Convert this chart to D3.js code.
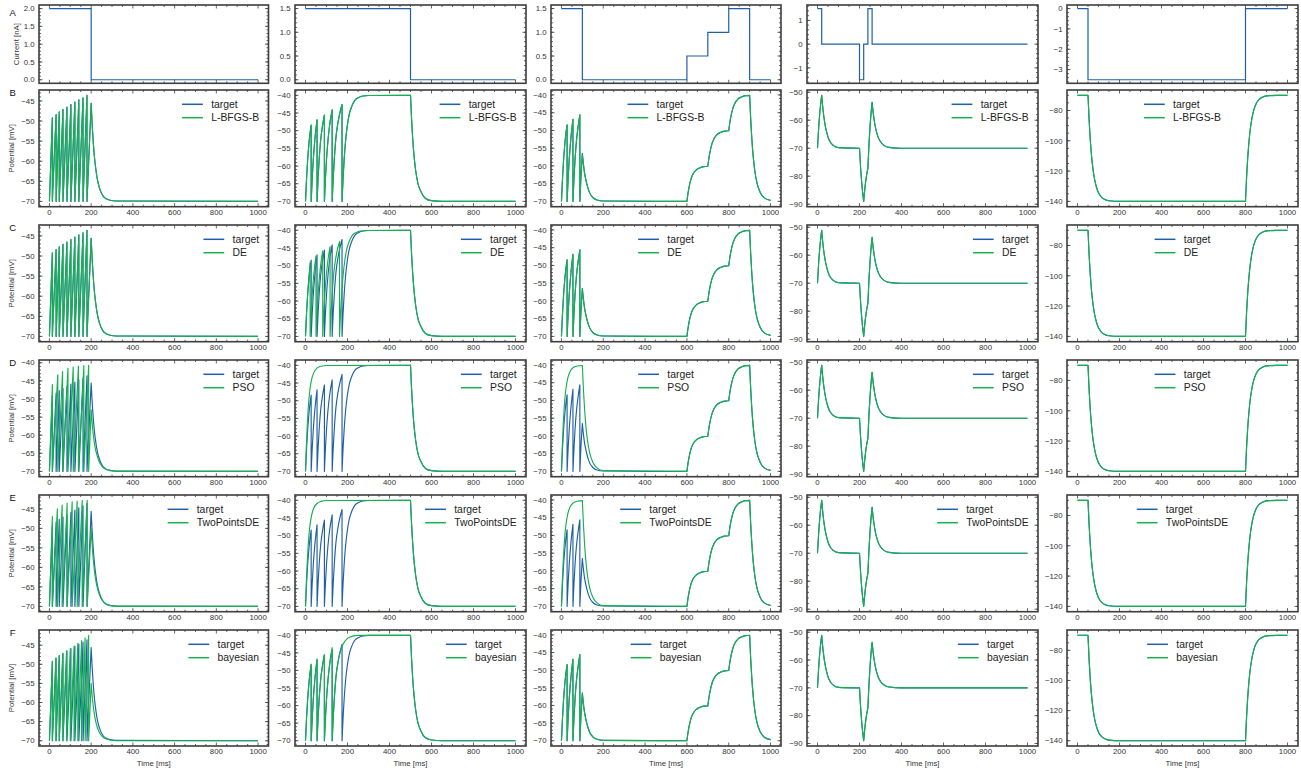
<!DOCTYPE html>
<html><head><meta charset="utf-8">
<script src="https://cdn.jsdelivr.net/npm/d3@7"></script>
<style>
body{margin:0;background:#fff}
svg{display:block;font-family:"Liberation Sans",Arial,Helvetica,sans-serif}
</style></head><body><svg id="c" width="1301" height="772"></svg>
<script>
// ---------------- DATA ----------------
const rowLetters = ["A","B","C","D","E","F"];
const methods = ["L-BFGS-B","DE","PSO","TwoPointsDE","bayesian"];
const timeTicks = [0,200,400,600,800,1000];
const currentTicks = [[0,0.5,1,1.5,2],[0,0.5,1,1.5],[0,0.5,1,1.5],[-1,0,1],[-3,-2,-1,0]];
const potentialTickCandidates = [
  [-70,-65,-60,-55,-50,-45,-40],
  [-70,-65,-60,-55,-50,-45,-40],
  [-70,-65,-60,-55,-50,-45,-40],
  [-90,-80,-70,-60,-50],
  [-140,-120,-100,-80]
];

// injected current [t (ms), I (nA)]
const current1 = [[0,2],[200,2],[200,0],[1000,0]];
const current2 = [[0,1.5],[500,1.5],[500,0],[1000,0]];
const current3 = [[0,1.5],[100,1.5],[100,0],[600,0],[600,0.5],[700,0.5],[700,1],[800,1],[800,1.5],[900,1.5],[900,0],[1000,0]];
const current4 = [[0,1.5],[20,1.5],[20,0],[200,0],[200,-1.5],[220,-1.5],[220,0],[240,0],[240,1.5],[260,1.5],[260,0],[1000,0]];
const current5 = [[0,0],[50,0],[50,-3.5],[800,-3.5],[800,0],[1000,0]];

// column 1 : spike times / peak potentials
const c1TargetSpikeT = [14, 32, 47, 65, 84, 103, 122, 141, 161, 180];
const c1TargetSpikeV = [-49.2, -48.4, -47.7, -47.1, -46.5, -45.9, -45.3, -44.7, -44.2, -43.6];
const c1TargetTail = [[[180,-70],[200,-45.6]],
  [[200,-45.6],[205,-51.0],[210,-55.2],[215,-58.5],[220,-61.0],[230,-64.6],[240,-66.7],[255,-68.5],[270,-69.3],[290,-69.7],[320,-69.9],[1000,-70]]];
const c1PsoSpikeT = [14, 40, 63, 89, 114, 139, 165, 188];
const c1PsoSpikeV = [-46.0, -43.3, -42.4, -41.5, -41.2, -40.9, -40.8, -40.7];
const c1PsoTail = [[[188,-70],[200,-53.0]],
  [[200,-53.0],[205,-56.8],[210,-59.7],[215,-62.0],[220,-63.7],[230,-65.9],[240,-67.5],[255,-68.8],[270,-69.4],[290,-69.8],[320,-70],[1000,-70]]];
const c1TpdeSpikeT = [14, 38, 61, 85, 109, 133, 157, 181];
const c1TpdeSpikeV = [-47.0, -45.0, -44.0, -43.5, -43.2, -43.0, -42.9, -42.8];
const c1TpdeTail = [[[181,-70],[200,-50.0]],
  [[200,-50.0],[205,-54.4],[210,-57.9],[215,-60.5],[220,-62.6],[230,-65.4],[240,-67.1],[255,-68.6],[270,-69.4],[290,-69.8],[320,-70],[1000,-70]]];
const c1BayesSpikeT = [14, 31, 47, 64, 82, 100, 118, 136, 154, 171, 188];
const c1BayesSpikeV = [-49.2, -48.3, -47.7, -47.1, -46.5, -45.9, -45.2, -44.5, -43.8, -43.1, -42.4];
const c1BayesTail = [[[188,-70],[200,-55.0]],
  [[200,-55.0],[205,-58.3],[210,-60.9],[215,-62.9],[220,-64.5],[230,-66.6],[240,-67.9],[255,-69.0],[270,-69.5],[290,-69.8],[320,-70],[1000,-70]]];

// column 2 : segments of [t, V]
const c2Decay = [[500,-40],[505,-46.6],[510,-51.8],[517,-57.2],[525,-61.4],[535,-64.8],[550,-67.3],[570,-69.1],[600,-69.8],[650,-70],[1000,-70]];
const c2Target = [
  [[0,-70],[5,-63.6],[10,-58.5],[15,-54.6],[20,-51.5],[27,-48.4]],
  [[27,-70],[32,-63.5],[37,-58.3],[42,-54.3],[47,-51.0],[55,-46.9]],
  [[55,-70],[60,-63.4],[65,-58.2],[72,-52.8],[80,-49.0],[90,-45.6]],
  [[90,-70],[95,-63.4],[100,-58.2],[107,-52.8],[115,-48.4],[127,-44.1]],
  [[127,-70],[132,-63.4],[137,-58.2],[145,-51.9],[155,-47.6],[164,-44.9],[174,-42.6]],
  [[174,-70],[179,-63.4],[184,-58.2],[191,-52.8],[199,-48.6],[209,-45.2],[219,-43.3],[234,-41.5],[254,-40.6],[274,-40.2],[300,-40.05],[500,-40]],
  c2Decay];
const c2De = [
  [[0,-70],[5,-63.4],[10,-58.2],[15,-54.2],[22,-49.0]],
  [[22,-70],[27,-63.4],[32,-58.2],[38,-53.4],[44,-50.0],[50,-47.2]],
  [[50,-70],[55,-63.4],[60,-58.2],[67,-52.8],[74,-49.0],[82,-45.8]],
  [[82,-70],[87,-63.4],[92,-58.2],[99,-52.8],[107,-48.4],[117,-44.6]],
  [[117,-70],[122,-63.4],[127,-58.2],[135,-51.9],[145,-47.6],[154,-44.9],[162,-43.2]],
  [[162,-70],[167,-63.4],[172,-58.2],[179,-52.8],[187,-48.6],[197,-45.2],[207,-43.3],[222,-41.5],[242,-40.6],[262,-40.2],[290,-40.05],[500,-40]],
  c2Decay];
const c2Pso = [
  [[0,-70],[4,-63.0],[8,-57.5],[12,-53.2],[16,-49.8],[22,-46.5],[30,-43.8],[40,-42.0],[55,-40.8],[75,-40.25],[100,-40.05],[500,-40]],
  c2Decay];
const c2Tpde = [
  [[0,-70],[4,-63.3],[8,-57.9],[12,-53.6],[16,-50.2],[22,-46.8],[30,-44.0],[40,-42.1],[55,-40.9],[75,-40.3],[100,-40.05],[500,-40]],
  c2Decay];
const c2Bayes = [
  [[0,-70],[5,-63.6],[10,-58.5],[15,-54.6],[20,-51.5],[27,-48.2]],
  [[27,-70],[32,-63.5],[37,-58.3],[42,-54.3],[47,-51.0],[55,-46.8]],
  [[55,-70],[60,-63.4],[65,-58.2],[72,-52.8],[80,-49.0],[90,-45.5]],
  [[90,-70],[95,-63.4],[100,-58.2],[107,-52.8],[115,-48.2],[127,-43.5]],
  [[127,-70],[132,-63.4],[137,-58.2],[145,-51.9],[155,-47.6],[165,-44.8],[180,-42.4],[200,-40.9],[225,-40.25],[250,-40.05],[500,-40]],
  c2Decay];

// column 3
const c3Steps = [
  [[600,-70],[605,-67.8],[610,-66.1],[620,-63.6],[630,-62.2],[645,-61.1],[660,-60.6],[680,-60.2],[700,-60.1]],
  [[700,-60.1],[705,-57.9],[710,-56.2],[720,-53.7],[730,-52.3],[745,-51.1],[760,-50.6],[780,-50.2],[800,-50.1]],
  [[800,-50.1],[805,-47.9],[810,-46.2],[820,-43.7],[830,-42.3],[845,-41.1],[860,-40.6],[880,-40.2],[900,-40.1]],
  [[900,-40.1],[905,-46.7],[910,-51.9],[917,-57.3],[925,-61.5],[935,-64.8],[950,-67.4],[970,-69.0],[1000,-69.7]]];
const c3Target = [
  [[0,-70],[5,-63.6],[10,-58.5],[15,-54.6],[20,-51.5],[27,-48.4]],
  [[27,-70],[32,-63.5],[37,-58.3],[42,-54.3],[47,-51.0],[55,-46.9]],
  [[55,-70],[60,-63.4],[65,-58.2],[72,-52.8],[80,-48.8],[88,-45.6]],
  [[88,-70],[93,-63.4],[100,-56.5]],
  [[100,-56.5],[105,-59.5],[110,-61.8],[117,-64.0],[125,-65.9],[135,-67.6],[150,-68.9],[170,-69.6],[200,-69.9],[600,-70]],
  ...c3Steps];
const c3Pso = [
  [[0,-70],[4,-63.0],[8,-57.5],[12,-53.2],[16,-49.8],[22,-46.5],[30,-43.8],[40,-42.0],[55,-40.8],[75,-40.3],[100,-40.15]],
  [[100,-40.15],[105,-46.7],[110,-51.9],[117,-57.3],[125,-61.5],[135,-64.8],[150,-67.4],[170,-69.0],[200,-69.8],[600,-70]],
  ...c3Steps];
const c3Tpde = [
  [[0,-70],[4,-63.3],[8,-57.9],[12,-53.6],[16,-50.2],[22,-46.8],[30,-44.0],[40,-42.1],[55,-40.9],[75,-40.35],[100,-40.2]],
  [[100,-40.2],[105,-46.7],[110,-51.9],[117,-57.3],[125,-61.5],[135,-64.8],[150,-67.4],[170,-69.0],[200,-69.8],[600,-70]],
  ...c3Steps];

// column 4
const c4Target = [
  [[0,-70],[5,-63.4],[10,-58.2],[15,-54.2],[20,-51.1]],
  [[20,-51.1],[25,-55.3],[30,-58.6],[35,-61.1],[40,-63.1],[50,-66.0],[60,-67.7],[75,-69.0],[100,-69.8],[200,-70]],
  [[200,-70],[205,-76.6],[210,-81.8],[215,-85.8],[220,-89.0]],
  [[220,-89.0],[225,-84.8],[230,-81.6],[235,-79.1],[240,-77.2]],
  [[240,-77.2],[245,-68.9],[250,-62.5],[255,-57.5],[260,-53.6]],
  [[260,-53.6],[265,-57.2],[270,-60.0],[275,-62.2],[280,-63.9],[290,-66.3],[300,-67.7],[315,-68.9],[340,-69.7],[400,-70],[1000,-70]]];

// column 5
const c5Target = [
  [[0,-70],[50,-70]],
  [[50,-70],[55,-85.5],[60,-97.5],[65,-106.9],[70,-114.3],[80,-124.4],[90,-130.5],[100,-134.3],[115,-137.3],[130,-138.7],[150,-139.6],[200,-140],[800,-140]],
  [[800,-140],[805,-124.5],[810,-112.5],[815,-103.1],[820,-95.7],[830,-85.6],[840,-79.5],[850,-75.7],[865,-72.7],[880,-71.3],[900,-70.4],[950,-70.05],[1000,-70]]];

// --------------- build trace tables ---------------
function spikeSegments(times, peaks, tail) {
  const segs = times.map((t, i) => [[i ? times[i-1] : 0, -70], [t, peaks[i]]]);
  return segs.concat(tail);
}
const c1Target = spikeSegments(c1TargetSpikeT, c1TargetSpikeV, c1TargetTail);
const c1Pso = spikeSegments(c1PsoSpikeT, c1PsoSpikeV, c1PsoTail);
const c1Tpde = spikeSegments(c1TpdeSpikeT, c1TpdeSpikeV, c1TpdeTail);
const c1Bayes = spikeSegments(c1BayesSpikeT, c1BayesSpikeV, c1BayesTail);

const currents = [current1, current2, current3, current4, current5];
const targets = [c1Target, c2Target, c3Target, c4Target, c5Target];
// fits[column][method]
const fits = [
  [c1Target, c1Target, c1Pso, c1Tpde, c1Bayes],
  [c2Target, c2De, c2Pso, c2Tpde, c2Bayes],
  [c3Target, c3Target, c3Pso, c3Tpde, c3Target],
  [c4Target, c4Target, c4Target, c4Target, c4Target],
  [c5Target, c5Target, c5Target, c5Target, c5Target]
];
const legendCentered = [false, false, true, false, true];

// --------------- LAYOUT ---------------
const colLeft = [39, 295, 551, 807, 1067];
const colWidth = [229.5, 231, 230, 231, 231];
const rowTop = [5, 90, 225, 360, 495, 630];
const rowHeight = [78.3, 116.7, 116.7, 116.7, 116.7, 116];
const targetColor = "#1f5fa8";
const fitColor = "#13b24e";
const frameColor = "#3d3d3d";
const textColor = "#333";
const tickFont = 7.8;

const svg = d3.select("#c");
const minus = s => String(s).replace("-", "\u2212");

function drawPanel(r, c) {
  const x0 = colLeft[c], y0 = rowTop[r], w = colWidth[c], h = rowHeight[r];
  const g = svg.append("g");
  const x = d3.scaleLinear().domain([-50, 1050]).range([x0, x0 + w]);
  let yDomain, yTicks, fmt;
  if (r === 0) {
    const ext = d3.extent(currents[c], d => d[1]);
    const pad = (ext[1] - ext[0]) * 0.05;
    yDomain = [ext[0] - pad, ext[1] + pad];
    yTicks = currentTicks[c];
    fmt = c < 3 ? (v => minus(v.toFixed(1))) : (v => minus(v.toFixed(0)));
  } else {
    const all = targets[c].concat(fits[c][r-1]).flat();
    const ext = d3.extent(all, d => d[1]);
    const pad = (ext[1] - ext[0]) * 0.05;
    yDomain = [ext[0] - pad, ext[1] + pad];
    yTicks = potentialTickCandidates[c].filter(v => v >= yDomain[0] && v <= yDomain[1]);
    fmt = v => minus(v.toFixed(0));
  }
  const y = d3.scaleLinear().domain(yDomain).range([y0 + h, y0]);

  const clipId = `clip${r}_${c}`;
  svg.append("clipPath").attr("id", clipId).append("rect")
    .attr("x", x0).attr("y", y0).attr("width", w).attr("height", h);
  const plot = g.append("g").attr("clip-path", `url(#${clipId})`);

  if (r === 0) {
    const line = d3.line().x(d => x(d[0])).y(d => y(d[1]));
    plot.append("path").attr("d", line(currents[c])).attr("fill", "none")
      .attr("stroke", targetColor).attr("stroke-width", 1.2);
  } else {
    const line = d3.line().x(d => x(d[0])).y(d => y(d[1])).curve(d3.curveMonotoneX);
    const path = segs => segs.map((s, i) => { const d = line(s); return i ? "L" + d.slice(1) : d; }).join("");
    plot.append("path").attr("d", path(targets[c])).attr("fill", "none")
      .attr("stroke", targetColor).attr("stroke-width", 1.15).attr("stroke-linejoin", "round");
    plot.append("path").attr("d", path(fits[c][r-1])).attr("fill", "none")
      .attr("stroke", fitColor).attr("stroke-width", 1.15).attr("stroke-linejoin", "round");
  }

  // ticks (inward, all sides)
  const tk = g.append("g").attr("stroke", frameColor).attr("stroke-width", 0.8);
  const xMinor = d3.range(-50, 1051, 50).filter(v => v > -50 && v < 1050 && v % 200 !== 0);
  timeTicks.forEach(v => {
    tk.append("line").attr("x1", x(v)).attr("x2", x(v)).attr("y1", y0 + h).attr("y2", y0 + h - 3.5);
    tk.append("line").attr("x1", x(v)).attr("x2", x(v)).attr("y1", y0).attr("y2", y0 + 3.5);
  });
  xMinor.forEach(v => {
    tk.append("line").attr("x1", x(v)).attr("x2", x(v)).attr("y1", y0 + h).attr("y2", y0 + h - 2);
    tk.append("line").attr("x1", x(v)).attr("x2", x(v)).attr("y1", y0).attr("y2", y0 + 2);
  });
  const step = yTicks[1] - yTicks[0];
  const mant = step / Math.pow(10, Math.floor(Math.log10(step)));
  const ndiv = [1, 2.5, 5, 10].some(m => Math.abs(m - mant) < 1e-6) ? 5 : 4;
  const yMinor = [];
  for (let v = yTicks[0] - step; v <= yTicks[yTicks.length-1] + step + 1e-9; v += step / ndiv) {
    if (v > yDomain[0] && v < yDomain[1]) yMinor.push(v);
  }
  yMinor.forEach(v => {
    tk.append("line").attr("x1", x0).attr("x2", x0 + 2).attr("y1", y(v)).attr("y2", y(v));
    tk.append("line").attr("x1", x0 + w).attr("x2", x0 + w - 2).attr("y1", y(v)).attr("y2", y(v));
  });
  yTicks.forEach(v => {
    tk.append("line").attr("x1", x0).attr("x2", x0 + 3.5).attr("y1", y(v)).attr("y2", y(v));
    tk.append("line").attr("x1", x0 + w).attr("x2", x0 + w - 3.5).attr("y1", y(v)).attr("y2", y(v));
  });

  g.append("rect").attr("x", x0).attr("y", y0).attr("width", w).attr("height", h)
    .attr("fill", "none").attr("stroke", frameColor).attr("stroke-width", 1.6);

  yTicks.forEach(v => {
    g.append("text").attr("x", x0 - 4.5).attr("y", y(v)).attr("dy", "0.35em")
      .attr("text-anchor", "end").attr("font-size", tickFont).attr("fill", textColor).text(fmt(v));
  });
  if (r > 0) {
    timeTicks.forEach(v => {
      g.append("text").attr("x", x(v)).attr("y", y0 + h + 8.3)
        .attr("text-anchor", "middle").attr("font-size", tickFont).attr("fill", textColor).text(fmt(v));
    });
  }
  if (r === 5) {
    g.append("text").attr("x", x0 + w / 2).attr("y", y0 + h + 19.5).attr("text-anchor", "middle")
      .attr("font-size", tickFont).attr("fill", textColor).text("Time [ms]");
  }
  if (c === 0) {
    const lx = r === 0 ? 19.4 : 14.4;
    g.append("text").attr("transform", `translate(${lx},${y0 + h / 2}) rotate(-90)`)
      .attr("text-anchor", "middle").attr("font-size", tickFont).attr("fill", textColor)
      .text(r === 0 ? "Current [nA]" : "Potential [mV]");
    g.append("text").attr("x", 12.7).attr("y", y0 + (r === 0 ? 7.3 : 2.5) + 3.4)
      .attr("text-anchor", "middle").attr("font-size", 9.5).attr("fill", "#111").text(rowLetters[r]);
  }

  if (r > 0) {
    const fs = 10.4;
    const labels = ["target", methods[r-1]];
    const texts = labels.map(l => g.append("text").attr("font-size", fs).attr("fill", "#222").text(l));
    const tw = d3.max(texts.map(t => t.node().getComputedTextLength()));
    const boxW = 4.2 + 20.8 + 8.3 + tw + 4.2;
    const boxLeft = legendCentered[c] ? (x0 + w / 2 - boxW / 2) : (x0 + w - 5.2 - boxW);
    const hx = boxLeft + 4.2;
    [targetColor, fitColor].forEach((col, i) => {
      const ly = y0 + 14.3 + i * 13.4;
      g.append("line").attr("x1", hx).attr("x2", hx + 20.8).attr("y1", ly).attr("y2", ly)
        .attr("stroke", col).attr("stroke-width", 1.5);
      texts[i].attr("x", hx + 20.8 + 8.3).attr("y", ly + 3.4);
    });
  }
}

for (let r = 0; r < 6; r++) for (let c = 0; c < 5; c++) drawPanel(r, c);
</script></body></html>
